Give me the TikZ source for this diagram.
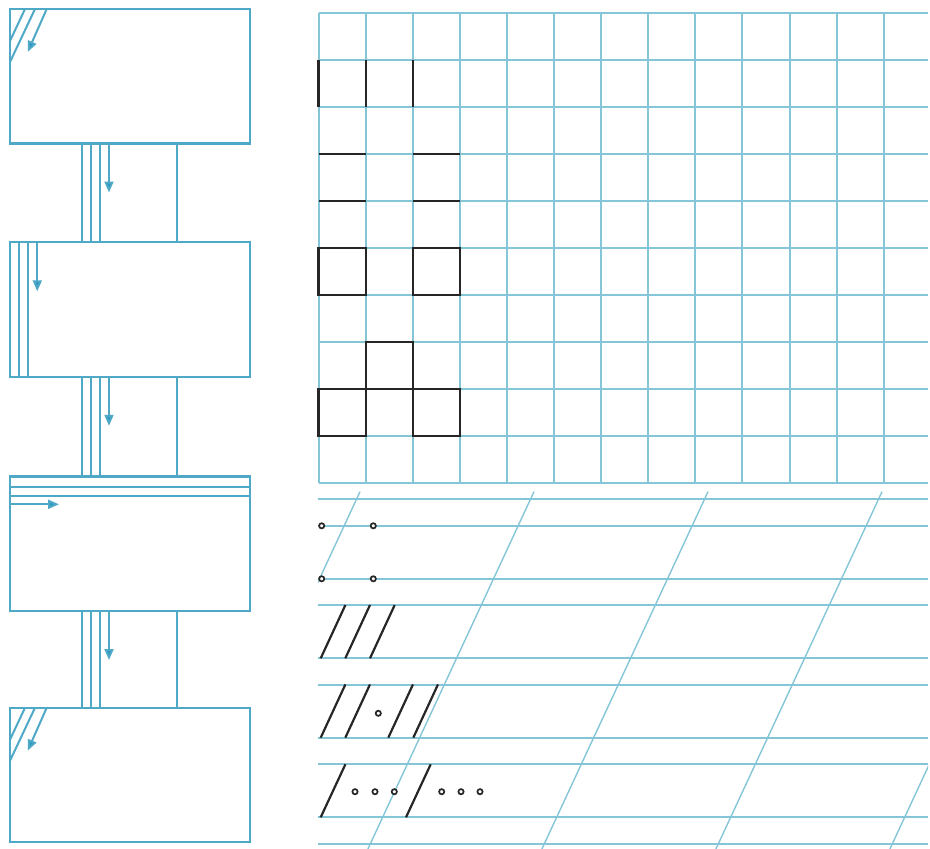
\documentclass[tikz,border=0pt]{standalone}
\usetikzlibrary{arrows.meta}

\definecolor{boxblue}{RGB}{78,168,198}
\definecolor{gridblue}{RGB}{132,198,216}
\definecolor{arrowblue}{RGB}{38,150,196}

\tikzset{
  stage/.style={draw=boxblue, line width=2.3pt, minimum width=240pt, minimum height=134.5pt, inner sep=0pt, outer sep=0pt, anchor=north west},
  panel/.style={draw=boxblue, line width=2pt},
  flow/.style={draw=boxblue, line width=2pt, -{Triangle[length=11pt,width=9pt,fill=arrowblue]}},
  gridline/.style={draw=gridblue, line width=2pt},
  ruleline/.style={draw=gridblue, line width=2pt},
  slantline/.style={draw=gridblue, line width=1.4pt},
  ink/.style={draw=black!85, line width=2.2pt},
  dot/.style={draw=black!85, fill=white, line width=1.7pt}
}

\begin{document}
\begin{tikzpicture}[x=1pt,y=-1pt]

    \useasboundingbox (0,0) rectangle (930,849);

    % Boxes
    \node[stage] (box1) at (10,9) {};
    \node[stage] (box2) at (10,242.3) {};
    \node[stage] (box3) at (10,476.5) {};
    \node[stage] (box4) at (10,707.7) {};

    % Connectors between boxes
    \foreach \a/\b in {box1/box2, box2/box3, box3/box4} {
        \foreach \dx in {72.3,81,90,167.3}
            \draw[panel] ([xshift=\dx pt]\a.south west) -- ([xshift=\dx pt]\b.north west);
        \draw[flow] ([xshift=99pt]\a.south west) -- ++(0,49);
    }

    % Box 1 and box 4: corner hatching
    \foreach \a in {box1, box4} {
        \draw[panel] ([xshift=15pt]\a.north west) -- ([yshift=-32pt]\a.north west);
        \draw[panel] ([xshift=25pt]\a.north west) -- ([yshift=-53pt]\a.north west);
        \draw[flow] ([xshift=36.7pt]\a.north west) -- ++(-19,43);
    }

    % Box 2: vertical strips
    \draw[panel] ([xshift=9pt]box2.north west) -- ([xshift=9pt]box2.south west);
    \draw[panel] ([xshift=18.3pt]box2.north west) -- ([xshift=18.3pt]box2.south west);
    \draw[flow] ([xshift=27.3pt]box2.north west) -- ++(0,49);

    % Box 3: horizontal strips
    \draw[panel] ([yshift=-10pt]box3.north west) -- ([yshift=-10pt]box3.north east);
    \draw[panel] ([yshift=-19pt]box3.north west) -- ([yshift=-19pt]box3.north east);
    \draw[flow] ([yshift=-27.8pt]box3.north west) -- ++(49,0);

    % Square grid
    \begin{scope}[xshift=318.5pt, yshift=-12.6pt, x=47.1pt, y=-47pt]
        \foreach \i in {0,...,12}
            \draw[gridline] (\i,0) -- (\i,10);
        \foreach \j in {0,...,10}
            \draw[gridline] (0,\j) -- (12.94,\j);

        % Marks on the grid
        \foreach \i in {0,1,2}
            \draw[ink] (\i,1) -- (\i,2);
        \foreach \j in {3,4} {
            \draw[ink] (0,\j) -- (1,\j);
            \draw[ink] (2,\j) -- (3,\j);
        }
        \draw[ink] (0,5) rectangle (1,6);
        \draw[ink] (2,5) rectangle (3,6);
        \draw[ink] (1,7) rectangle (2,8);
        \draw[ink] (0,8) rectangle (1,9);
        \draw[ink] (2,8) rectangle (3,9);
    \end{scope}

    % Ruled lines
    \foreach \k in {0,...,4} {
        \draw[ruleline] (318,{499.3+79.5*\k}) -- (928,{499.3+79.5*\k});
        \draw[ruleline] (318,{525.8+79.5*\k}) -- (928,{525.8+79.5*\k});
    }

    % Slanted lines
    \begin{scope}
        \clip (318,491.7) rectangle (928,849);
        \foreach \m in {0,...,4}
            \draw[slantline] ({360+174*\m},491.7) -- ++(-166.1,357.3);
    \end{scope}

    % Strokes on the ruled lines
    \foreach \xb in {320.7,345.3,370}
        \draw[ink] (\xb,658.3) -- ++(24.7,-53.3);
    \foreach \xb in {320.7,345.3,388.3,413.3}
        \draw[ink] (\xb,737.7) -- ++(24.7,-53.3);
    \foreach \xb in {320.7,406}
        \draw[ink] (\xb,817.3) -- ++(24.7,-53);

    % Dots
    \foreach \x/\y in {321.7/525.8, 373.3/525.8, 321.7/578.8, 373.3/578.8, 378.3/713.3,
                       355/791.7, 375/791.7, 394.3/791.7, 441.7/791.7, 461/791.7, 480/791.7}
        \draw[dot] (\x,\y) circle (2.6pt);

\end{tikzpicture}
\end{document}
